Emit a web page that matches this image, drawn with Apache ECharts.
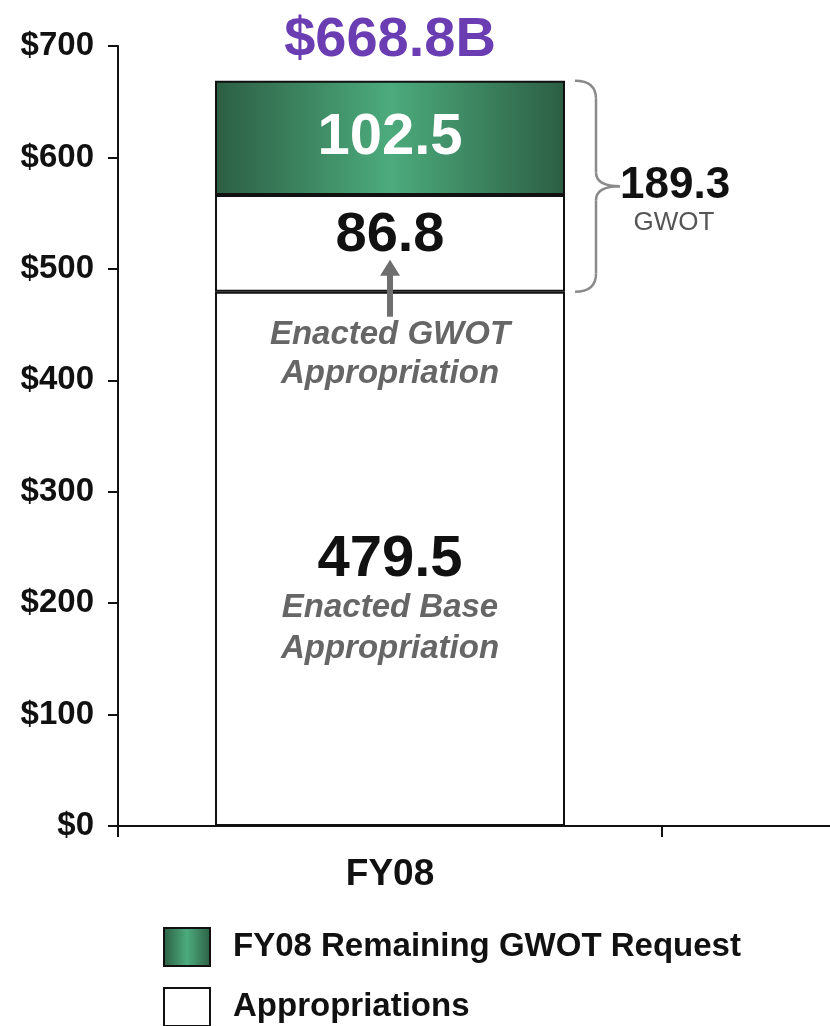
<!DOCTYPE html>
<html>
    <head>
        <meta charset="utf-8">
        <title>FY08 GWOT</title>
        <script src="https://cdn.jsdelivr.net/npm/echarts@6/dist/echarts.min.js"></script>
    </head>
    <body style="margin:0;background:#fff;">
        <div id="main" style="width: 830px;height:1026px;"></div>
        <script type="text/javascript">
            // values
            var categories = ['FY08', ''];
            var baseEnacted = [479.5, '-'];
            var gwotEnacted = [86.8, '-'];
            var gwotRemaining = [102.5, '-'];
            var legendNames = ['FY08 Remaining GWOT Request', 'Appropriations'];
            var totalLabel = '$668.8B';
            var gwotTotalLabel = '189.3';

            var font = "'Liberation Sans', Arial, sans-serif";
            var myChart = echarts.init(document.getElementById('main'));

            var green = new echarts.graphic.LinearGradient(0, 0, 1, 0, [
                { offset: 0, color: '#2c5e44' },
                { offset: 0.5, color: '#4cab7c' },
                { offset: 1, color: '#2c5e44' }
            ]);
            var whiteBox = { color: '#ffffff', borderColor: '#111', borderWidth: 2 };

            function legendAt(name, top) {
                return {
                    left: 163,
                    top: top,
                    padding: 0,
                    itemWidth: 46,
                    itemHeight: 38,
                    icon: 'rect',
                    data: [name],
                    textStyle: { fontFamily: font, fontSize: 33, fontWeight: 'bold', color: '#111', padding: [0, 0, 0, 18] }
                };
            }

            var option = {
                animation: false,
                textStyle: { fontFamily: font },
                grid: { left: 118, top: 46, width: 1088, height: 780, outerBoundsMode: 'none' },
                legend: [legendAt(legendNames[0], 927), legendAt(legendNames[1], 987)],
                xAxis: {
                    type: 'category',
                    data: categories,
                    axisLine: { lineStyle: { color: '#111', width: 2 } },
                    axisTick: { show: true, length: 11, lineStyle: { color: '#111', width: 2 } },
                    axisLabel: { fontSize: 37, fontWeight: 'bold', color: '#111', margin: 30 }
                },
                yAxis: {
                    type: 'value',
                    min: 0,
                    max: 700,
                    interval: 100,
                    splitLine: { show: false },
                    axisLine: { show: true, lineStyle: { color: '#111', width: 2 } },
                    axisTick: { show: true, length: 10, lineStyle: { color: '#111', width: 2 } },
                    axisLabel: { fontSize: 33, fontWeight: 'bold', color: '#111', margin: 24, formatter: '${value}' }
                },
                series: [
                    {
                        name: legendNames[1],
                        type: 'bar',
                        stack: 'a',
                        barWidth: 350,
                        data: baseEnacted,
                        itemStyle: whiteBox,
                        label: {
                            show: true,
                            position: 'inside',
                            offset: [0, 42],
                            formatter: '{v|{c}}\n{s|Enacted Base}\n{s|Appropriation}',
                            rich: {
                                v: { fontSize: 58, fontWeight: 'bold', color: '#111', lineHeight: 56 },
                                s: { fontSize: 33, fontWeight: 'bold', fontStyle: 'italic', color: '#666', lineHeight: 41 }
                            }
                        }
                    },
                    {
                        name: legendNames[1],
                        type: 'bar',
                        stack: 'a',
                        data: gwotEnacted,
                        itemStyle: whiteBox,
                        label: {
                            show: true,
                            position: 'inside',
                            offset: [0, -8],
                            fontSize: 56,
                            fontWeight: 'bold',
                            color: '#111'
                        }
                    },
                    {
                        name: legendNames[0],
                        type: 'bar',
                        stack: 'a',
                        data: gwotRemaining,
                        itemStyle: { color: green, borderColor: '#111', borderWidth: 2 },
                        label: {
                            show: true,
                            position: 'inside',
                            fontSize: 58,
                            fontWeight: 'bold',
                            color: '#fff'
                        }
                    }
                ]
            };
            myChart.setOption(option);

            // annotations placed through the chart's own scales
            function annotate() {
                var top = baseEnacted[0] + gwotEnacted[0] + gwotRemaining[0];
                var yTop = myChart.convertToPixel({ yAxisIndex: 0 }, top);
                var yBase = myChart.convertToPixel({ yAxisIndex: 0 }, baseEnacted[0]);
                var xc = myChart.convertToPixel({ xAxisIndex: 0 }, categories[0]);
                var xr = xc + 175;
                var ym = (yTop + yBase) / 2;
                var bx0 = xr + 10, bx1 = xr + 31, tip = xr + 55;
                var braceStyle = { stroke: '#8a8a8a', lineWidth: 2.5, fill: null };

                myChart.setOption({
                    graphic: [
                        {
                            type: 'text', x: xc, y: yTop - 12, z: 100,
                            style: { text: totalLabel, font: 'bold 56px ' + font, fill: '#6a3db3', align: 'center', verticalAlign: 'bottom' }
                        },
                        // brace over the GWOT part
                        { type: 'bezierCurve', z: 100, shape: { x1: bx0, y1: yTop, cpx1: bx1, cpy1: yTop, x2: bx1, y2: yTop + 18 }, style: braceStyle },
                        { type: 'line', z: 100, shape: { x1: bx1, y1: yTop + 18, x2: bx1, y2: ym - 14 }, style: braceStyle },
                        { type: 'bezierCurve', z: 100, shape: { x1: bx1, y1: ym - 14, cpx1: bx1, cpy1: ym, x2: tip, y2: ym }, style: braceStyle },
                        { type: 'bezierCurve', z: 100, shape: { x1: tip, y1: ym, cpx1: bx1, cpy1: ym, x2: bx1, y2: ym + 14 }, style: braceStyle },
                        { type: 'line', z: 100, shape: { x1: bx1, y1: ym + 14, x2: bx1, y2: yBase - 18 }, style: braceStyle },
                        { type: 'bezierCurve', z: 100, shape: { x1: bx1, y1: yBase - 18, cpx1: bx1, cpy1: yBase, x2: bx0, y2: yBase }, style: braceStyle },
                        {
                            type: 'text', x: tip, y: ym, z: 100,
                            style: { text: gwotTotalLabel, font: 'bold 44px ' + font, fill: '#111', verticalAlign: 'middle' }
                        },
                        {
                            type: 'text', x: tip + 54, y: ym + 37, z: 100,
                            style: { text: 'GWOT', font: '26px ' + font, fill: '#555', align: 'center', verticalAlign: 'middle' }
                        },
                        {
                            type: 'line', z: 100,
                            shape: { x1: xc, y1: yBase + 25, x2: xc, y2: yBase - 18 },
                            style: { stroke: '#6e6e6e', lineWidth: 6 }
                        },
                        {
                            type: 'polygon', z: 100,
                            shape: { points: [[xc - 10, yBase - 16], [xc + 10, yBase - 16], [xc, yBase - 32]] },
                            style: { fill: '#6e6e6e' }
                        },
                        {
                            type: 'text', x: xc, y: yBase + 43, z: 100,
                            style: { text: 'Enacted GWOT', font: 'italic bold 33px ' + font, fill: '#666', align: 'center', verticalAlign: 'middle' }
                        },
                        {
                            type: 'text', x: xc, y: yBase + 82, z: 100,
                            style: { text: 'Appropriation', font: 'italic bold 33px ' + font, fill: '#666', align: 'center', verticalAlign: 'middle' }
                        }
                    ]
                });
            }
            annotate();
        </script>
    </body>
</html>
